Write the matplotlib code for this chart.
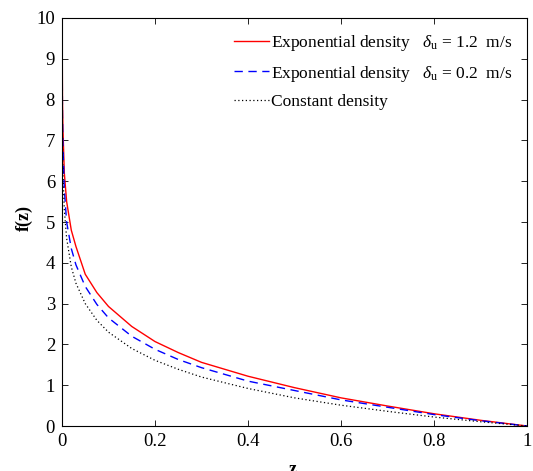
import matplotlib
matplotlib.use("Agg")
import matplotlib.pyplot as plt

plt.rcParams['font.family'] = ['Liberation Serif', 'DejaVu Serif']
plt.rcParams['mathtext.fontset'] = 'custom'
plt.rcParams['mathtext.rm'] = 'Liberation Serif'
plt.rcParams['mathtext.it'] = 'Liberation Serif:italic'

# values
z = [0.00002, 0.00005, 0.0002, 0.001, 0.002, 0.005, 0.01, 0.02, 0.03, 0.05,
     0.075, 0.1, 0.15, 0.2, 0.25, 0.3, 0.4, 0.5, 0.6, 0.7, 0.8, 0.9, 1.0]
f_exp_12 = [12.5, 11.5, 10.3, 8.0, 7.3, 6.2, 5.5, 4.8, 4.4, 3.72,
            3.27, 2.93, 2.44, 2.07, 1.80, 1.56, 1.22, 0.94, 0.69, 0.49, 0.30, 0.14, 0.0]
f_exp_02 = [12.0, 11.0, 9.7, 7.6, 6.9, 5.8, 5.0, 4.35, 3.95, 3.42,
            2.98, 2.65, 2.2, 1.88, 1.63, 1.43, 1.10, 0.87, 0.64, 0.46, 0.28, 0.13, 0.0]
f_const = [10.8, 9.9, 8.5, 6.9, 6.2, 5.3, 4.6, 3.9, 3.5, 3.0,
           2.59, 2.30, 1.90, 1.61, 1.39, 1.20, 0.92, 0.69, 0.51, 0.36, 0.22, 0.105, 0.0]

labels = [r'Exponential density   $\delta_{\mathrm{u}}$ = 1.2  m/s',
          r'Exponential density   $\delta_{\mathrm{u}}$ = 0.2  m/s',
          'Constant density']

fig = plt.figure(figsize=(5.33, 4.71), dpi=100)
ax = fig.add_axes([0.1163, 0.0955, 0.8727, 0.8663])

ax.plot(z, f_exp_12, color='red', lw=1.0, label=labels[0])
ax.plot(z, f_exp_02, color='blue', lw=1.0, ls=(0, (6, 4)), label=labels[1])
ax.plot(z, f_const, color='black', lw=0.9, ls=(0, (1, 2)), label=labels[2])

ax.set_xlim(0, 1)
ax.set_ylim(0, 10)
ax.set_xticks([0, 0.2, 0.4, 0.6, 0.8, 1])
ax.set_xticklabels(['0', '0.2', '0.4', '0.6', '0.8', '1'])
ax.set_yticks(range(0, 11))
ax.tick_params(direction='in', top=True, right=True, length=4, width=0.6,
               labelsize=13.5, pad=5)
for s in ax.spines.values():
    s.set_linewidth(0.8)

ax.set_ylabel('f(z)', fontsize=13, fontweight='bold')
ax.set_xlabel('z', fontsize=13, fontweight='bold')
ax.yaxis.set_label_coords(-0.062, 0.51)
ax.xaxis.set_label_coords(0.495, -0.085)

ax.legend(loc='upper right', frameon=False, fontsize=12.5, handlelength=2.0,
          handletextpad=0.12, labelspacing=0.62, borderaxespad=0.45)

fig.savefig('out.png', dpi=100)
